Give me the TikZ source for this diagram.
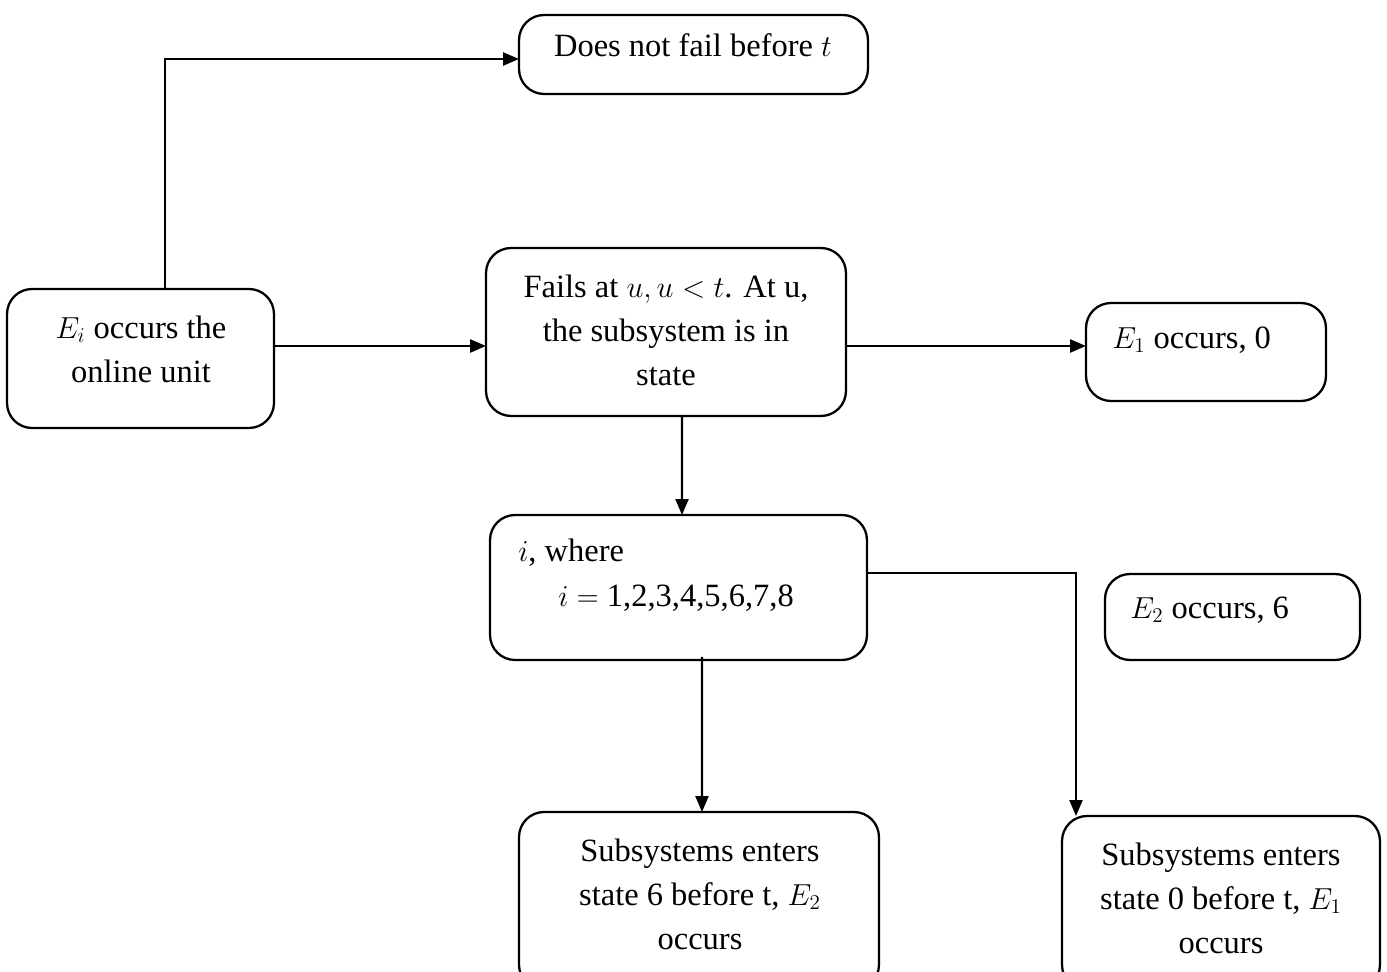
\documentclass[tikz,border=0pt]{standalone}
\usepackage{fontspec}
\setmainfont{Liberation Serif}
\usetikzlibrary{arrows.meta,calc}

\tikzset{
  box/.style={draw, rounded corners=0.5cm, line width=1.3pt, inner sep=0pt, outer sep=0pt},
  txt/.style={inner sep=0pt, align=center, font=\fontsize{18.5pt}{25pt}\selectfont},
  arr/.style={line width=1.3pt, -{Triangle[length=0.32cm,width=0.26cm]}}
}

\begin{document}
\begin{tikzpicture}[x=0.02cm, y=-0.02cm]
  \useasboundingbox (0,0) rectangle (1387,972);
  \clip (0,0) rectangle (1387,972);

  % boxes
  \node[box, minimum width=6.98cm, minimum height=1.58cm] (notfail) at (693.5,54.5) {};
  \node[box, minimum width=5.34cm, minimum height=2.78cm] (online) at (140.5,358.5) {};
  \node[box, minimum width=7.2cm, minimum height=3.36cm] (fails) at (666,332) {};
  \node[box, minimum width=4.8cm, minimum height=1.96cm] (eone) at (1206,352) {};
  \node[box, minimum width=7.54cm, minimum height=2.9cm] (where) at (678.5,587.5) {};
  \node[box, minimum width=5.1cm, minimum height=1.72cm] (etwo) at (1232.5,617) {};
  \node[box, minimum width=7.2cm, minimum height=3.56cm] (sixst) at (699,901) {};
  \node[box, minimum width=6.36cm, minimum height=3.48cm] (zerost) at (1221,903) {};

  % texts
  \node[txt] (tnotfail) at (693,45) {Does not fail before $t$};
  \node[txt] (tonline) at (141,349) {$E_i$ occurs the\\online unit};
  \node[txt] (tfails) at (666,330) {Fails at $u, u<t$. At u,\\the subsystem is in\\state};
  \node[txt, anchor=west] (teone) at (1112,340) {$E_1$ occurs, 0};
  \node[txt, anchor=west] (twhere) at (518,553) {$i$, where};
  \node[txt, anchor=west] (tvals) at (558,598) {$i=$ 1,2,3,4,5,6,7,8};
  \node[txt, anchor=west] (tetwo) at (1130,610) {$E_2$ occurs, 6};
  \node[txt] (tsixst) at (700,894) {Subsystems enters\\state 6 before t, $E_2$\\occurs};
  \node[txt] (tzerost) at (1221,898) {Subsystems enters\\state 0 before t, $E_1$\\occurs};

  % connectors
  \draw[arr] ($(online.north)+(24.5,0)$) |- ($(notfail.west)+(0,4.5)$);
  \draw[arr] ($(online.east)+(0,-12.5)$) -- ($(fails.west)+(0,14)$);
  \draw[arr] ($(fails.east)+(0,14)$) -- ($(eone.west)+(0,-6)$);
  \draw[arr] ($(fails.south)+(16,0)$) -- ($(where.north)+(3.5,0)$);
  \draw[arr] ($(where.south)+(23.5,-3)$) -- ($(sixst.north)+(3,0)$);
  \draw[arr] ($(where.east)+(0,-14.5)$) -| ($(zerost.north)+(-145,0)$);
\end{tikzpicture}
\end{document}
